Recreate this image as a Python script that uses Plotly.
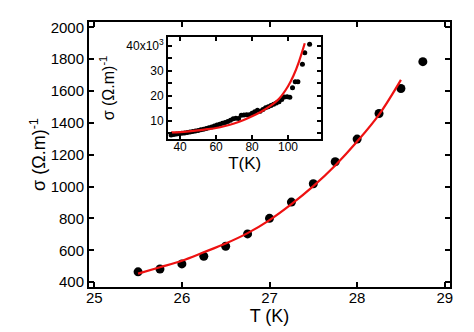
import plotly.graph_objects as go

# main panel: sigma vs T near 25-29 K
T_main = [25.5, 25.75, 26.0, 26.25, 26.5, 26.75, 27.0, 27.25, 27.5, 27.75, 28.0, 28.25, 28.5, 28.75]
sigma_main = [465, 483, 515, 563, 626, 703, 801, 903, 1018, 1156, 1298, 1459, 1616, 1784]

# fitted curve
T_fit = [25.5, 25.75, 26.0, 26.25, 26.5, 26.75, 27.0, 27.25, 27.5, 27.75, 28.0, 28.25, 28.5]
sigma_fit = [454, 494, 535, 588, 643, 708, 790, 890, 1003, 1133, 1283, 1452, 1670]

# inset: wide temperature range
T_inset = [35, 36.5, 38, 39.5, 41, 42.5, 44, 45.5, 47, 48.5, 50, 51.5, 53, 54.5, 56, 57.5,
           59, 60.5, 62, 63.5, 65, 66.5, 68, 69.5, 71, 72.5, 74, 75.5, 77, 78.5, 80, 81.5,
           83, 84.5, 86, 87.5, 89, 90.5, 92, 93.5, 95, 96.5, 98, 99.5, 101, 102.5, 104,
           105.5, 108, 109.3, 112]
sigma_inset = [4300, 4500, 4700, 4800, 5000, 5100, 5300, 5500, 5700, 5900, 6100, 6400, 6600,
               6900, 7200, 7500, 7900, 8300, 8600, 9000, 9300, 9700, 10200, 10800, 11000,
               10900, 12200, 12300, 12400, 12400, 13000, 13600, 14200, 13800, 14500, 15200,
               15600, 16100, 16600, 17100, 17600, 18500, 19500, 19600, 19400, 23200, 25600,
               25600, 32600, 37200, 40600]

T_inset_fit = [35, 40, 45, 50, 55, 60, 65, 70, 75, 80, 85, 90, 95, 100, 103, 106, 109.3]
sigma_inset_fit = [5300, 5400, 5700, 6100, 6600, 7100, 7900, 8900, 10200, 11800, 13600,
                   15800, 18800, 23800, 28000, 33500, 41000]

inset_yticks = [10000, 20000, 30000, 40000]
inset_ytext = ["10", "20", "30", "40x10<sup>3</sup>"]

FONT = "Liberation Sans, Arial, sans-serif"

fig = go.Figure()
fig.add_trace(go.Scatter(x=T_main, y=sigma_main, mode="markers",
                         marker=dict(color="black", size=9), showlegend=False))
fig.add_trace(go.Scatter(x=T_fit, y=sigma_fit, mode="lines",
                         line=dict(color="#ee1111", width=2.2, shape="spline"), showlegend=False))
fig.add_trace(go.Scatter(x=T_inset, y=sigma_inset, mode="markers", xaxis="x2", yaxis="y2",
                         marker=dict(color="black", size=5), showlegend=False))
fig.add_trace(go.Scatter(x=T_inset_fit, y=sigma_inset_fit, mode="lines", xaxis="x2", yaxis="y2",
                         line=dict(color="#ee1111", width=2.2, shape="spline"), showlegend=False))

axis_common = dict(showline=True, linecolor="black", linewidth=2, mirror="ticks",
                   ticks="inside", tickcolor="black", tickwidth=1.5, showgrid=False,
                   zeroline=False)

fig.update_layout(
    width=474, height=332,
    margin=dict(l=81, r=32, t=14, b=53),
    plot_bgcolor="white", paper_bgcolor="white",
    font=dict(family=FONT, color="black"),
    xaxis=dict(range=[24.94, 29.06], tickvals=[25, 26, 27, 28, 29], ticklen=5,
               tickfont=dict(size=15), ticklabelstandoff=-4,
               title=dict(text="T (K)", font=dict(size=18), standoff=3), **axis_common),
    yaxis=dict(range=[370, 2033], tickvals=[400, 600, 800, 1000, 1200, 1400, 1600, 1800, 2000],
               ticklen=5, tickfont=dict(size=15),
               title=dict(text="σ (Ω.m)<sup>-1</sup>", font=dict(size=18), standoff=0),
               **axis_common),
    xaxis2=dict(domain=[0.219, 0.6435], anchor="y2", range=[33.3, 118.5],
                tickvals=[40, 60, 80, 100], ticklen=4, tickfont=dict(size=12),
                ticklabelstandoff=-4,
                title=dict(text="T(K)", font=dict(size=17), standoff=0), **axis_common),
    yaxis2=dict(domain=[0.5596, 0.9423], anchor="x2", range=[2800, 43400],
                tickvals=inset_yticks, ticktext=inset_ytext, ticklen=4,
                tickfont=dict(size=12),
                minor=dict(dtick=5000, tick0=0, ticks="inside", ticklen=4,
                           tickcolor="black", tickwidth=1.5),
                title=dict(text="σ (Ω.m)<sup>-1</sup>", font=dict(size=16), standoff=8),
                **axis_common),
)

fig.write_html("out.html")
